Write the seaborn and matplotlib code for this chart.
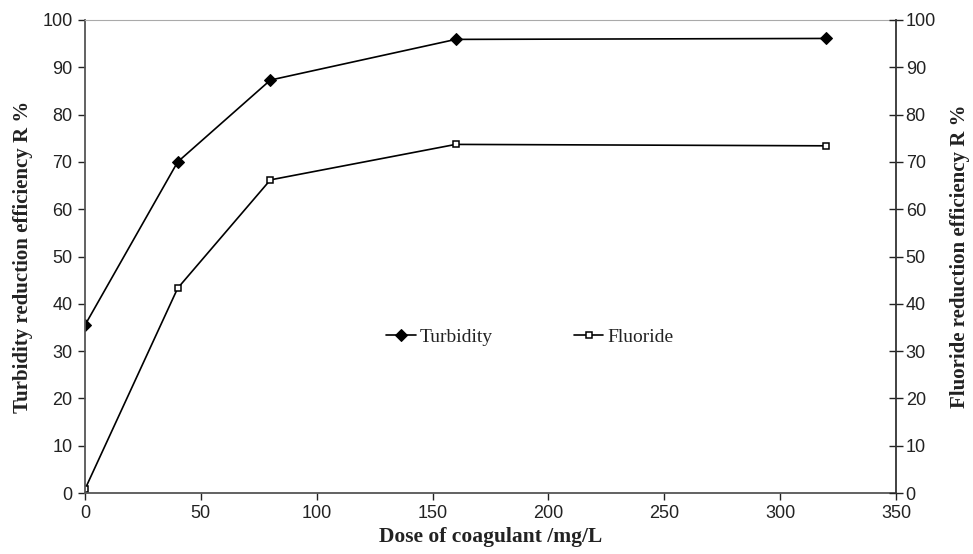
import matplotlib
matplotlib.use("Agg")
import matplotlib.pyplot as plt
import seaborn as sns
import pandas as pd

dose = [0, 40, 80, 160, 320]
turbidity = [35.5, 70.0, 87.3, 95.9, 96.1]
fluoride = [0.8, 43.3, 66.2, 73.7, 73.4]
x_ticks = [0, 50, 100, 150, 200, 250, 300, 350]
y_ticks = [0, 10, 20, 30, 40, 50, 60, 70, 80, 90, 100]

sns.set_theme(style="white")
plt.rcParams['font.family'] = ['Liberation Sans', 'DejaVu Sans']

df = pd.DataFrame({"dose": dose, "Turbidity": turbidity, "Fluoride": fluoride})

fig = plt.figure(figsize=(9.73, 5.54), dpi=100)
ax = fig.add_axes([85/973, 61/554, (896-85)/973, (493-20)/554])

sns.lineplot(data=df, x="dose", y="Turbidity", ax=ax, color="black", lw=1.2,
             marker="D", markersize=6.5, markerfacecolor="black", markeredgecolor="black",
             label="Turbidity")
sns.lineplot(data=df, x="dose", y="Fluoride", ax=ax, color="black", lw=1.2,
             marker="s", markersize=5, markerfacecolor="white", markeredgecolor="black",
             markeredgewidth=1.1, label="Fluoride")

ax.set_xlim(0, 350)
ax.set_ylim(0, 100)
ax.set_xticks(x_ticks)
ax.set_yticks(y_ticks)
ax.tick_params(axis="both", which="both", labelsize=13, colors="#222222",
               length=5, width=1, direction="out", left=True, bottom=True, pad=4)
for s in ["left", "bottom"]:
    ax.spines[s].set_color("#555555")
    ax.spines[s].set_linewidth(1.3)
ax.spines["top"].set_color("#aaaaaa")
ax.spines["top"].set_linewidth(0.8)
ax.spines["right"].set_visible(False)

ax.set_xlabel("Dose of coagulant /mg/L", fontfamily="Liberation Serif",
              fontweight="bold", fontsize=15.5, color="#222222", labelpad=3)
ax.set_ylabel("Turbidity reduction efficiency R %", fontfamily="Liberation Serif",
              fontweight="bold", fontsize=15, color="#222222")
ax.yaxis.set_label_coords(-0.064, 0.5)

ax2 = ax.twinx()
ax2.set_ylim(0, 100)
ax2.set_yticks(y_ticks)
ax2.tick_params(axis="y", labelsize=13, colors="#222222", length=10, width=1,
                direction="inout", right=True, pad=2)
ax2.spines["right"].set_color("#333333")
ax2.spines["right"].set_linewidth(1.3)
for s in ["left", "top", "bottom"]:
    ax2.spines[s].set_visible(False)
ax2.set_ylabel("Fluoride reduction efficiency R %", fontfamily="Liberation Serif",
               fontweight="bold", fontsize=15, color="#222222")
ax2.yaxis.set_label_coords(1.066, 0.5)

leg = ax.legend(loc="center", bbox_to_anchor=(192/350, 0.33), ncol=2, frameon=False,
                prop={"family": "Liberation Serif", "size": 14},
                handlelength=1.5, handletextpad=0.2, columnspacing=4.2)
for t in leg.get_texts():
    t.set_color("#222222")

fig.savefig("out.png", dpi=100)
